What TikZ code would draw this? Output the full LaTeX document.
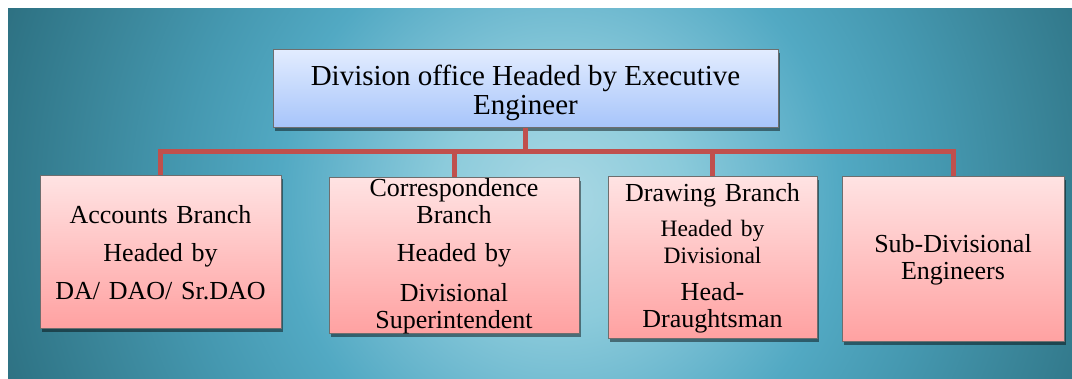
\documentclass[tikz,border=0pt]{standalone}
\usepackage{fontspec}
\setmainfont{Liberation Serif}
\usetikzlibrary{shadows}

% palette
\definecolor{glow0}{HTML}{AAD8E4}
\definecolor{glow1}{HTML}{8CCBDB}
\definecolor{glow2}{HTML}{70BAD0}
\definecolor{glow3}{HTML}{52A9C3}
\definecolor{glow4}{HTML}{4598B0}
\definecolor{glow5}{HTML}{3A8599}
\definecolor{glow6}{HTML}{307688}
\definecolor{glow7}{HTML}{2B6A7A}
\definecolor{linkred}{HTML}{C0504D}
\definecolor{headtop}{HTML}{E2ECFF}
\definecolor{headbot}{HTML}{A6C4FA}
\definecolor{branchtop}{HTML}{FFE3E3}
\definecolor{branchbot}{HTML}{FFA1A1}
\definecolor{boxedge}{HTML}{6E6E6E}

% radial glow of the backdrop; 25bp = 600px radius
\pgfdeclareradialshading{backglow}{\pgfpoint{0bp}{0bp}}{%
  color(0bp)=(glow0); color(5bp)=(glow1); color(8.3bp)=(glow2);
  color(11.7bp)=(glow3); color(15.8bp)=(glow4); color(20bp)=(glow5);
  color(23.3bp)=(glow6); color(25.8bp)=(glow7); color(50bp)=(glow7)}

\tikzset{
  orgbox/.style={rectangle, draw=boxedge, line width=1pt, inner sep=0pt,
    align=center, font=\fontsize{26}{27}\selectfont,
    drop shadow={shadow xshift=2pt, shadow yshift=-3pt, opacity=0.45, fill=black}},
  headbox/.style={orgbox, top color=headtop, bottom color=headbot,
    font=\fontsize{29}{29}\selectfont},
  branchbox/.style={orgbox, top color=branchtop, bottom color=branchbot},
  link/.style={draw=linkred, line width=5pt}
}

\begin{document}
\begin{tikzpicture}[x=1pt, y=-1pt]
  \useasboundingbox (0,0) rectangle (1072,379);
  \fill[white] (0,0) rectangle (1072,379);

  % backdrop
  \begin{scope}
    \clip (8,9) rectangle (1072,379);
    \shade[shading=backglow] (560,200) circle (600);
  \end{scope}

  % head office (text sits a little below the box centre)
  \node[headbox, minimum width=505pt, minimum height=78pt] (head) at (525.5,89)
    {\raisebox{-4pt}[\height][\depth]{\parbox{480pt}{\centering
      Division office Headed by Executive\\Engineer}}};

  % branches
  \node[branchbox, minimum width=241pt, minimum height=153pt, text width=235pt]
    (acc) at (160.5,252.5)
    {Accounts Branch\\[11pt]Headed by\\[11pt]DA/ DAO/ Sr.DAO};
  \node[branchbox, minimum width=250pt, minimum height=156pt, text width=244pt]
    (corr) at (454,256)
    {Correspondence\\Branch\\[11pt]Headed by\\[13pt]Divisional\\Superintendent};
  \node[branchbox, minimum width=209pt, minimum height=162pt, text width=203pt]
    (draw) at (712.5,258)
    {Drawing Branch\\[10pt]{\fontsize{23.5}{25}\selectfont Headed by\\Divisional}\\[10pt]Head-\\Draughtsman};
  \node[branchbox, minimum width=222pt, minimum height=165pt, text width=216pt]
    (sub) at (953,259.5)
    {Sub-Divisional\\Engineers\\[14pt]};

  % connectors
  \coordinate (hub) at (head.south |- 0,152);
  \draw[link] (head.south) -- (hub);
  \draw[link] (hub) -| (acc.north);
  \draw[link] (hub) -| (corr.north);
  \draw[link] (hub) -| (draw.north);
  \draw[link] (hub) -| (sub.north);
\end{tikzpicture}
\end{document}
